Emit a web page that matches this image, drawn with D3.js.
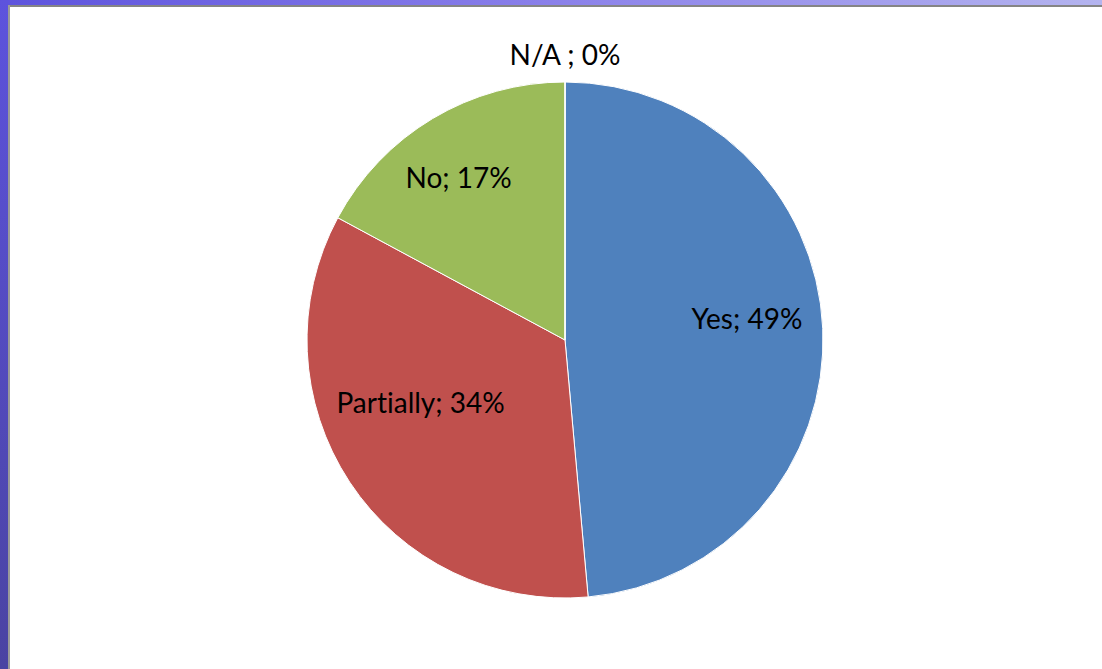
<!DOCTYPE html>
<html>
<head>
<meta charset="utf-8">
<script src="https://cdn.jsdelivr.net/npm/d3@7"></script>
<style>
  html, body { margin: 0; padding: 0; background: #fff; }
  svg { display: block; }
  text { font-variant-ligatures: none; font-feature-settings: "liga" 0; }
</style>
</head>
<body>
<div class="pieChart"></div>
<script>
let w = 1102;
let h = 669;

// answers counted from the survey
let categories = ["Yes", "Partially", "No", "N/A "];
let counts = [17, 12, 6, 0];

let colorPalette = ["#4f81bd", "#c0504d", "#9bbb59", "#8064a2"];

// label placement, polar: radius as share of pie radius, angle nudge in degrees
let labelPlace = {
  "Yes": { r: 0.71, turn: -4 },
  "Partially": { r: 0.61, turn: 10 },
  "No": { r: 0.75, turn: -2.5 },
  "N/A ": { r: 1.105, turn: 0 }
};

let cx = 565;
let cy = 340;
let radius = 258;

let svg = d3.select(".pieChart")
            .append("svg")
            .attr("width", w)
            .attr("height", h);

//   window frame: gradient bands on top and left
let defs = svg.append("defs");
let topGrad = defs.append("linearGradient").attr("id", "topGrad")
                  .attr("x1", 0).attr("x2", 1).attr("y1", 0).attr("y2", 0);
topGrad.append("stop").attr("offset", "0%").attr("stop-color", "#5d53dd");
topGrad.append("stop").attr("offset", "50%").attr("stop-color", "#8a80ea");
topGrad.append("stop").attr("offset", "100%").attr("stop-color", "#b4b4ef");
let leftGrad = defs.append("linearGradient").attr("id", "leftGrad")
                   .attr("x1", 0).attr("x2", 0).attr("y1", 0).attr("y2", 1);
leftGrad.append("stop").attr("offset", "0%").attr("stop-color", "#5d53dd");
leftGrad.append("stop").attr("offset", "100%").attr("stop-color", "#4a43a2");

svg.append("rect").attr("x", 0).attr("y", 0).attr("width", w).attr("height", 5)
   .attr("fill", "url(#topGrad)");
svg.append("rect").attr("x", 0).attr("y", 0).attr("width", 8).attr("height", h)
   .attr("fill", "url(#leftGrad)");
svg.append("rect").attr("x", 8).attr("y", 5).attr("width", w - 8).attr("height", 2)
   .attr("fill", "#858585");
svg.append("rect").attr("x", 8).attr("y", 5).attr("width", 2).attr("height", h - 5)
   .attr("fill", "#9a9a9a");

//   the pie
let data = categories.map((c, i) => ({ category: c, count: counts[i] }));
let total = d3.sum(counts);
let pct = d3.format(".0%");

let pie = d3.pie().sort(null).value((d) => d.count);
let arcs = pie(data);

let arc = d3.arc().innerRadius(0).outerRadius(radius);
let color = d3.scaleOrdinal(categories, colorPalette);

let g = svg.append("g").attr("transform", `translate(${cx},${cy})`);

g.selectAll("path")
 .data(arcs)
 .enter()
 .append("path")
 .attr("d", arc)
 .attr("fill", (d) => color(d.data.category))
 .attr("stroke", "#fff")
 .attr("stroke-width", 1);

g.selectAll("text")
 .data(arcs)
 .enter()
 .append("text")
 .attr("transform", (d) => {
   let p = labelPlace[d.data.category];
   let a = (d.startAngle + d.endAngle) / 2 + p.turn * Math.PI / 180;
   let r = radius * p.r;
   return `translate(${r * Math.sin(a)},${-r * Math.cos(a)})`;
 })
 .attr("text-anchor", "middle")
 .attr("dy", "0.36em")
 .style("font-family", "Lato, 'Open Sans', sans-serif")
 .style("font-size", "28px")
 .attr("fill", "#000")
 .text((d) => `${d.data.category}; ${pct(d.data.count / total)}`);
</script>
</body>
</html>
